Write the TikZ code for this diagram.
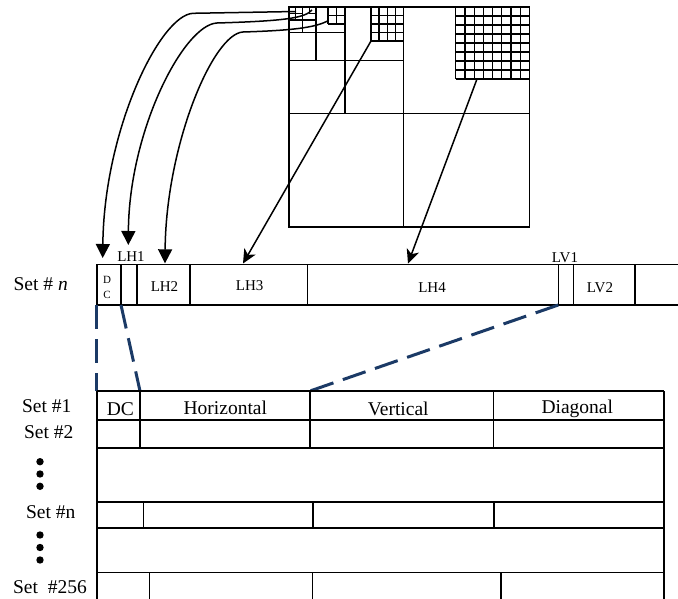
\documentclass[tikz,border=0pt]{standalone}
\usepackage{fontspec}
\setmainfont{Liberation Serif}
\usetikzlibrary{arrows.meta}
\definecolor{navy}{HTML}{1B3A66}
\begin{document}
\begin{tikzpicture}[x=1pt,y=-1pt,
  mainline/.style={line width=1.6pt},
  gridline/.style={line width=1.2pt},
  biglbl/.style={font=\fontsize{19.5}{21}\selectfont, inner sep=0pt, anchor=base},
  smalllbl/.style={font=\fontsize{15}{16}\selectfont, inner sep=0pt, anchor=base},
  tinylbl/.style={font=\fontsize{11}{12}\selectfont, inner sep=0pt, anchor=base},
  curvearrow/.style={line width=1.5pt, -{Triangle[length=14pt,width=14pt]}},
  straightarrow/.style={line width=1.5pt, -{Stealth[length=14pt,width=13pt,inset=4pt]}},
  navydash/.style={draw=navy, line width=3pt, dash pattern=on 24pt off 10pt}]

\useasboundingbox (0,0) rectangle (678,599);

% ---------- quadtree square ----------
\draw[mainline] (289,7) rectangle (529.5,227);
\draw[mainline] (403.3,7) -- (403.3,227);
\draw[mainline] (289,113.7) -- (529.5,113.7);
\draw[mainline] (345,7) -- (345,113.7);
\draw[mainline] (289,60.7) -- (403.3,60.7);
\draw[mainline] (316,7) -- (316,60.7);
\draw[mainline] (289,32.7) -- (345,32.7);
% tiny region
\draw[gridline] (302.5,7) -- (302.5,32.7);
\draw[gridline] (289,20) -- (316,20);
\draw[gridline] (295.75,7) -- (295.75,20);
\draw[gridline] (289,13.5) -- (302.5,13.5);
\draw[gridline] (309.2,7) -- (309.2,13.5) -- (316,13.5);
% 2x2 grid
\foreach \i in {0,1,2} {
  \draw[gridline] ({328+\i*8.5},7) -- ({328+\i*8.5},24);
  \draw[gridline] (328,{7+\i*8.5}) -- (345,{7+\i*8.5});
}
% 4x4 grid
\foreach \i in {0,...,4} {
  \draw[gridline] ({371+\i*8.075},7) -- ({371+\i*8.075},41);
  \draw[gridline] (371,{7+\i*8.5}) -- (403.3,{7+\i*8.5});
}
% 8x8 grid
\foreach \i in {0,...,8} {
  \draw[gridline] ({455.7+\i*9.225},7) -- ({455.7+\i*9.225},79);
  \draw[gridline] (455.7,{7+\i*9}) -- (529.5,{7+\i*9});
}

% ---------- Set # n bar ----------
\draw[mainline] (678,264.3) -- (96.7,264.3) -- (96.7,305) -- (678,305);
\foreach \xx in {121,136.7,190,307.3,558.3,573.3,635}
  \draw[mainline] (\xx,264.3) -- (\xx,305);

\node[biglbl, anchor=base east] (setn) at (68,290) {Set \# \textit{n}};
\node[tinylbl] (dcD) at (107,283) {D};
\node[tinylbl] (dcC) at (107,298) {C};
\node[smalllbl] (lh1) at (131,261.5) {LH1};
\node[smalllbl] (lh2) at (164.5,291) {LH2};
\node[smalllbl] (lh3) at (249.7,290) {LH3};
\node[smalllbl] (lh4) at (432,292) {LH4};
\node[smalllbl] (lv1) at (565,262.5) {LV1};
\node[smalllbl] (lv2) at (600,292) {LV2};

% ---------- arrows ----------
\coordinate (s1) at (296,11.5);
\coordinate (e1) at (102.7,258);
\coordinate (s2) at (312,10);
\coordinate (e2) at (128.3,245);
\coordinate (s3) at (328.5,20.5);
\coordinate (e3) at (165,263.3);
\coordinate (s4) at (371,41);
\coordinate (e4) at (243,263.5);
\coordinate (s5) at (477,79);
\coordinate (e5) at (408,263.5);

\draw[curvearrow] (s1) -- (193,13.3) .. controls (160,15) and (104,130) .. (e1);
\draw[curvearrow] (s2) .. controls (305,18) and (285,21) .. (217,23)
   .. controls (184,24.5) and (129,130) .. (e2);
\draw[curvearrow] (s3) .. controls (315,28) and (290,30.5) .. (243,32)
   .. controls (213,33.5) and (166,145) .. (e3);
\draw[straightarrow] (s4) -- (e4);
\draw[straightarrow] (s5) -- (e5);

% ---------- dashed zoom lines ----------
\coordinate (b1) at (96.7,305);
\coordinate (b2) at (121,305);
\coordinate (b3) at (558.3,305);
\coordinate (t1) at (96.7,391);
\coordinate (t2) at (140,391);
\coordinate (t3) at (310,391);
\draw[navydash] (b1) -- (t1);
\draw[navydash] (b2) -- (t2);
\draw[navydash] (b3) -- (t3);

% ---------- table ----------
\draw[mainline] (96.7,391) -- (664,391);
\draw[mainline] (96.7,391) -- (96.7,599);
\draw[mainline] (664,391) -- (664,599);
\foreach \yy in {420,447.7,501.7,527.7,572.3}
  \draw[mainline] (96.7,\yy) -- (664,\yy);
\foreach \xx in {140,310,493.3}
  \draw[mainline] (\xx,391) -- (\xx,447.7);
\foreach \xx in {143.3,312.7,494}
  \draw[mainline] (\xx,501.7) -- (\xx,527.7);
\foreach \xx in {149.3,312.3,500.7}
  \draw[mainline] (\xx,572.3) -- (\xx,599);

\node[biglbl] (hdc) at (120.3,415.5) {DC};
\node[biglbl] (hhor) at (225.3,414) {Horizontal};
\node[biglbl] (hver) at (398.3,415) {Vertical};
\node[biglbl] (hdia) at (577.3,413.5) {Diagonal};

\node[biglbl] (set1) at (46.8,412.5) {Set \#1};
\node[biglbl] (set2) at (48.8,438.3) {Set \#2};
\node[biglbl] (setnn) at (50.8,518.3) {Set \#n};
\node[biglbl, anchor=base east] (set256) at (87,593.3) {Set\ \ \#256};

\foreach \yy [count=\k] in {461.7,474,486.3,535,547.5,560}
  \fill (40,\yy) circle (3.7);
\end{tikzpicture}
\end{document}
